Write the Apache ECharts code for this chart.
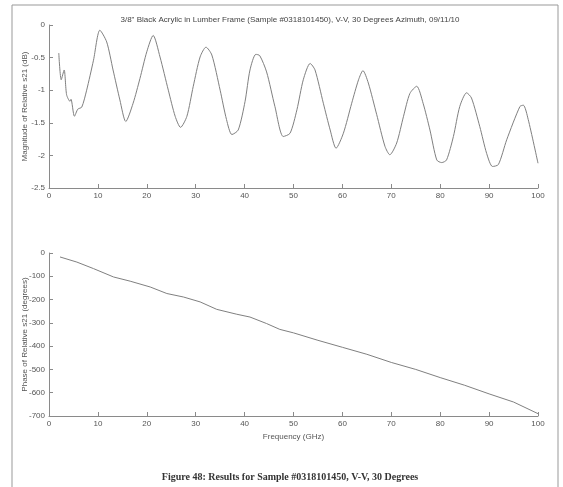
<!DOCTYPE html>
<html>
<head>
<meta charset="utf-8">
<script src="https://cdn.jsdelivr.net/npm/echarts@6/dist/echarts.min.js"></script>
<style>
html,body{margin:0;padding:0;background:#fff;}
#c{width:563px;height:487px;}
</style>
</head>
<body>
<div id="c"></div>
<script>
var titleText = '3/8" Black Acrylic in Lumber Frame (Sample #0318101450), V-V, 30 Degrees Azimuth, 09/11/10';
var captionText = 'Figure 48: Results for Sample #0318101450, V-V, 30 Degrees';
var magYName = 'Magnitude of Relative s21 (dB)';
var phaseYName = 'Phase of Relative s21 (degrees)';
var xName = 'Frequency (GHz)';

var magFreq = [2.0,2.5,3.1,3.6,4.3,4.5,5.2,5.9,6.7,7.7,9.1,10.4,11.8,13.1,14.5,15.7,17.2,18.6,20.0,21.3,22.7,24.4,25.8,26.9,28.2,29.5,30.9,32.1,33.3,35.0,36.3,37.4,38.7,40.1,41.1,42.3,43.1,44.5,46.2,47.9,49.3,50.7,52.0,53.4,54.4,56.1,57.5,58.7,60.2,61.9,63.3,64.2,65.3,67.0,68.7,69.7,71.1,72.5,73.8,75.2,76.5,77.9,79.3,80.3,81.3,82.7,84.0,85.4,86.4,88.1,89.5,90.7,91.9,93.6,96.3,97.0,98.0,100.0];
var magVal = [-0.43,-0.84,-0.69,-1.07,-1.17,-1.14,-1.40,-1.29,-1.26,-1.0,-0.54,-0.08,-0.26,-0.69,-1.15,-1.48,-1.20,-0.82,-0.41,-0.16,-0.49,-1.0,-1.40,-1.57,-1.40,-0.94,-0.49,-0.34,-0.46,-1.0,-1.45,-1.68,-1.61,-1.17,-0.69,-0.45,-0.47,-0.72,-1.25,-1.71,-1.66,-1.30,-0.84,-0.59,-0.69,-1.20,-1.61,-1.89,-1.66,-1.20,-0.84,-0.70,-0.89,-1.37,-1.86,-1.99,-1.81,-1.40,-1.05,-0.94,-1.20,-1.61,-2.07,-2.11,-2.07,-1.71,-1.25,-1.04,-1.12,-1.56,-1.97,-2.17,-2.14,-1.76,-1.25,-1.23,-1.45,-2.12];

var phaseFreq = [2.25,5.7,9.1,13.2,16.6,20.7,24.1,27.5,30.9,34.3,38.4,41.1,44.5,47.2,50,55,60,65,70,75,80,85,90,95,100];
var phaseVal = [-17,-39,-67,-103,-121,-146,-174,-189,-210,-242,-263,-275,-303,-328,-343,-375,-405,-435,-470,-500,-535,-568,-605,-640,-690];

var xTicks = {min:0, max:100, interval:10};
var magTicks = {min:-2.5, max:0, interval:0.5};
var phaseTicks = {min:-700, max:0, interval:100};

function zip(a,b){var r=[];for(var i=0;i<a.length;i++)r.push([a[i],b[i]]);return r;}

var axisColor = '#8a8a8a';
var txt = '#555';
var font = 'Liberation Sans';

function xAxis(gi, showName){
  return {
    type:'value', gridIndex:gi, min:xTicks.min, max:xTicks.max, interval:xTicks.interval,
    axisLine:{show:true, onZero:false, lineStyle:{color:axisColor, width:1}},
    axisTick:{show:true, inside:true, length:4, lineStyle:{color:axisColor}},
    axisLabel:{color:txt, fontSize:8, fontFamily:font, margin:4},
    splitLine:{show:false},
    name: showName ? xName : '', nameLocation:'middle', nameGap:17, nameMoveOverlap:false,
    nameTextStyle:{color:txt, fontSize:8, fontFamily:font}
  };
}
function yAxis(gi, t, name){
  return {
    type:'value', gridIndex:gi, min:t.min, max:t.max, interval:t.interval,
    axisLine:{show:true, onZero:false, lineStyle:{color:axisColor, width:1}},
    axisTick:{show:true, inside:true, length:4, lineStyle:{color:axisColor}},
    axisLabel:{color:txt, fontSize:8, fontFamily:font, margin:4},
    splitLine:{show:false},
    name:name, nameLocation:'middle', nameGap:20, nameMoveOverlap:false,
    nameTextStyle:{color:txt, fontSize:8, fontFamily:font}
  };
}

var chart = echarts.init(document.getElementById('c'), null, {renderer:'canvas'});
chart.setOption({
  backgroundColor:'#fff',
  animation:false,
  title:[
    {text:titleText, left:285, top:11, textAlign:'center',
     textStyle:{fontSize:8, fontWeight:'normal', color:'#444', fontFamily:font}},
    {text:captionText, left:285, top:467, textAlign:'center',
     textStyle:{fontSize:10, fontWeight:'bold', color:'#333', fontFamily:'Liberation Serif'}}
  ],
  grid:[
    {left:49, top:25, width:489, height:163},
    {left:49, top:253, width:489, height:163}
  ],
  xAxis:[xAxis(0,false), xAxis(1,true)],
  yAxis:[yAxis(0,magTicks,magYName), yAxis(1,phaseTicks,phaseYName)],
  series:[
    {type:'line', xAxisIndex:0, yAxisIndex:0, data:zip(magFreq,magVal), showSymbol:false, smooth:0.25,
     lineStyle:{color:'#808080', width:1}},
    {type:'line', xAxisIndex:1, yAxisIndex:1, data:zip(phaseFreq,phaseVal), showSymbol:false,
     lineStyle:{color:'#808080', width:1}}
  ],
  graphic:[
    {type:'rect', shape:{x:12, y:5, width:546, height:495},
     style:{fill:null, stroke:'#999', lineWidth:1}, silent:true}
  ]
});
</script>
</body>
</html>
